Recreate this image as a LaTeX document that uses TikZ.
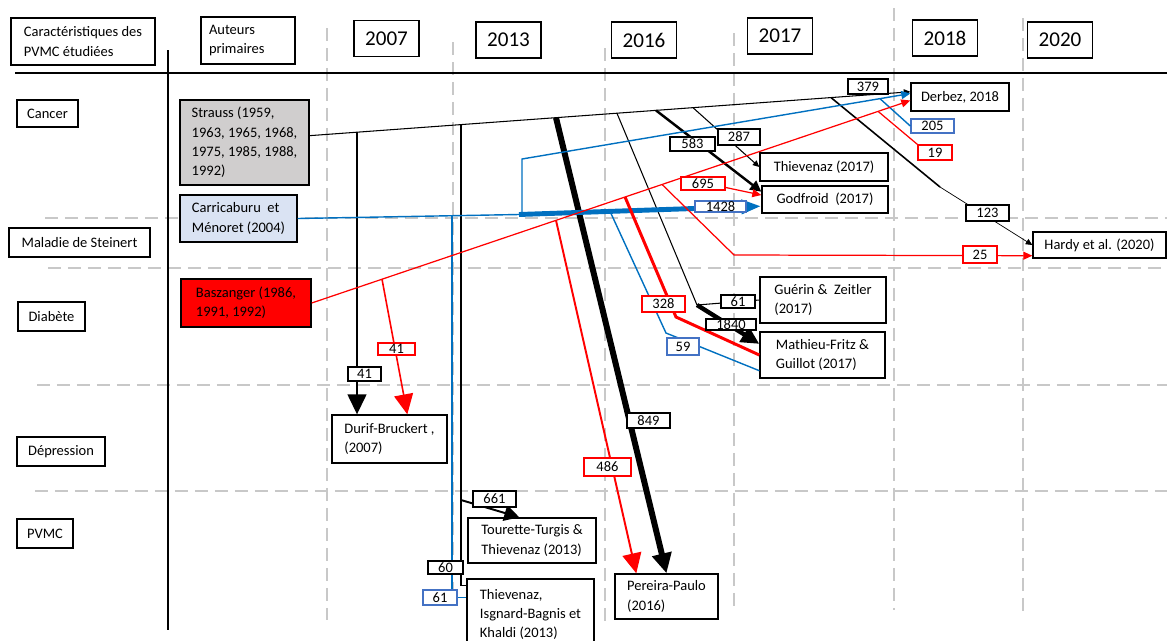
\documentclass[tikz,border=0pt]{standalone}
\usepackage{fontspec}
\setmainfont{Carlito}
\usetikzlibrary{arrows.meta, calc}
\definecolor{flowred}{HTML}{FF0000}
\definecolor{flowblue}{HTML}{0070C0}
\definecolor{labblue}{HTML}{4472C4}
\definecolor{gridgray}{HTML}{C8C8C8}
\definecolor{straussgray}{HTML}{D0CECE}
\definecolor{carriblue}{HTML}{DAE3F3}
\newcommand{\bodyfont}{\fontsize{8.25}{11}\selectfont}
\newcommand{\yearfont}{\fontsize{12}{14}\selectfont}

\begin{document}
\begin{tikzpicture}[x=0.02cm, y=-0.02cm,
  every node/.style={font=\bodyfont},
  pubbox/.style={draw, fill=white, line width=0.8pt, align=left, inner sep=0pt},
  yearbox/.style={pubbox, font=\yearfont, minimum width=1.3cm, minimum height=0.72cm},
  numlab/.style={draw, fill=white, line width=0.8pt, inner sep=0pt, minimum width=0.86cm, minimum height=0.3cm},
  redlab/.style={numlab, draw=flowred},
  bluelab/.style={numlab, draw=labblue},
  gridline/.style={gridgray, line width=0.9pt, dash pattern=on 0.26cm off 0.14cm},
  flow/.style={line width=0.6pt},
  redflow/.style={flowred, line width=0.7pt},
  blueflow/.style={flowblue, line width=0.8pt},
  bigtip/.style={-{Triangle[length=0.4cm, width=0.38cm]}},
  medtip/.style={-{Triangle[length=0.36cm, width=0.34cm]}},
  midtip/.style={-{Triangle[length=0.18cm, width=0.16cm]}},
  smalltip/.style={-{Triangle[length=0.13cm, width=0.12cm]}}
]
  \useasboundingbox (0,0) rectangle (1167,640);
  % grid
  \foreach \gx/\gt/\gb in {327/28/620, 453/42/595, 605/48/622, 734/33/608, 894/8/610, 1023/18/612}
    \draw[gridline] (\gx,\gt) -- (\gx,\gb);
  \foreach \gy/\gl in {218/45, 268/48, 385/37, 491/35}
    \draw[gridline] (\gl,\gy) -- (1167,\gy);
  % axes
  \draw[line width=1.2pt] (15,73) -- (1167,73);
  \draw[line width=1pt] (168,50) -- (168,630);

  % header
  \node[pubbox, minimum width=2.88cm, minimum height=0.94cm] (hcar) at (83,41.5) {Caractéristiques des\\PVMC étudiées};
  \node[pubbox, minimum width=1.88cm, minimum height=0.94cm, text width=1.56cm] (haut) at (248,40.5) {Auteurs\\primaires};
  \node[yearbox] (y2007) at (386.5,38.5) {2007};
  \node[yearbox] (y2013) at (508.5,40) {2013};
  \node[yearbox] (y2016) at (644,40) {2016};
  \node[yearbox] (y2017) at (780,36) {2017};
  \node[yearbox] (y2018) at (945,38) {2018};
  \node[yearbox] (y2020) at (1060,40) {2020};

  % categories
  \node[pubbox, minimum width=1.22cm, minimum height=0.54cm] (cancer) at (47.5,113.5) {Cancer};
  \node[pubbox, minimum width=2.82cm, minimum height=0.58cm] (steinert) at (79.5,242.5) {Maladie de Steinert};
  \node[pubbox, minimum width=1.34cm, minimum height=0.58cm] (diabete) at (51.5,316.5) {Diabète};
  \node[pubbox, minimum width=1.76cm, minimum height=0.58cm] (depression) at (61,451.5) {Dépression};
  \node[pubbox, minimum width=1.12cm, minimum height=0.58cm] (pvmc) at (45,533.5) {PVMC};

  % primary authors
  \node[pubbox, fill=straussgray, minimum width=2.58cm, minimum height=1.7cm] (strauss) at (244.5,142.5) {Strauss (1959,\\1963, 1965, 1968,\\1975, 1985, 1988,\\1992)};
  \node[pubbox, fill=carriblue, minimum width=2.34cm, minimum height=0.94cm] (carri) at (238.5,218.5) {Carricaburu\ \ et\\Ménoret (2004)};
  \node[pubbox, fill=flowred, minimum width=2.6cm, minimum height=0.96cm] (basz) at (246,303) {Baszanger (1986,\\1991, 1992)};

  % publications
  \node[pubbox, minimum width=1.96cm, minimum height=0.56cm] (derbez) at (960,97) {Derbez, 2018};
  \node[pubbox, minimum width=2.56cm, minimum height=0.56cm] (thiev17) at (824,167) {Thievenaz (2017)};
  \node[pubbox, minimum width=2.52cm, minimum height=0.54cm] (godfroid) at (825,199.5) {Godfroid\ \ (2017)};
  \node[pubbox, minimum width=2.66cm, minimum height=0.52cm] (hardy) at (1099.5,245) {Hardy et al. (2020)};
  \node[pubbox, minimum width=2.52cm, minimum height=0.92cm] (guerin) at (823,300) {Guérin \&\ \ Zeitler\\(2017)};
  \node[pubbox, minimum width=2.5cm, minimum height=0.92cm] (mathieu) at (822.5,355) {Mathieu-Fritz \&\\Guillot (2017)};
  \node[pubbox, minimum width=2.3cm, minimum height=0.96cm] (durif) at (389.5,439) {Durif-Bruckert ,\\(2007)};
  \node[pubbox, minimum width=2.56cm, minimum height=0.9cm] (tourette) at (532,540.5) {Tourette-Turgis \&\\Thievenaz (2013)};
  \node[pubbox, minimum width=2.54cm, minimum height=1.42cm] (thievIKB) at (530.5,614.5) {Thievenaz,\\Isgnard-Bagnis et\\Khaldi (2013)};
  \node[pubbox, minimum width=2.06cm, minimum height=0.9cm] (pereira) at (666.5,596.5) {Pereira-Paulo\\(2016)};

  % branch points
  \coordinate (s41) at (357,132.2);
  \coordinate (s60) at (461,124.7);
  \coordinate (s661) at (461,500);
  \coordinate (s849) at (556,117.7);
  \coordinate (s1840) at (617,113.3);
  \coordinate (k1840) at (697,305);
  \coordinate (s583) at (656,110.4);
  \coordinate (s287) at (693,107.7);
  \coordinate (s123) at (831,97.6);
  \coordinate (k123) at (940,187);
  \coordinate (k1428) at (519,214.5);
  \coordinate (kb1) at (522,214.4);
  \coordinate (kb2) at (522,159);
  \coordinate (b205) at (880,98.7);
  \coordinate (b61) at (452,215.7);
  \coordinate (b59) at (610,211.3);
  \coordinate (k59) at (666,333);
  \coordinate (r41) at (382,279.2);
  \coordinate (r486) at (556,220.3);
  \coordinate (r328) at (625,196.9);
  \coordinate (k328) at (676,317);
  \coordinate (r695) at (681,178);
  \coordinate (r25) at (662,184.4);
  \coordinate (k25) at (734,255);
  \coordinate (r19) at (878,111.3);

  % labels that end a line
  \node[bluelab, minimum height=0.28cm] (l205) at (932.5,126) {205};
  \node[redlab, minimum width=0.68cm] (l19) at (935,152.5) {19};

  % Strauss
  \draw[flow, smalltip] (strauss.6) -- (derbez.174);
  \draw[flow, line width=0.8pt, bigtip] (s41) -- (s41 |- durif.north);
  \draw[flow, line width=0.8pt] (s60) |- ($(thievIKB.north west)+(0,7)$);
  \draw[flow, line width=1.1pt, -{Triangle[length=0.3cm, width=0.32cm]}] (s661) -- ($(tourette.north west)+(52,0)$);
  \draw[line width=3.4pt, bigtip] (s849) -- (pereira.north);
  \draw[flow] (s1840) -- (k1840);
  \draw[flow] (k1840) -- (guerin.west);
  \draw[line width=2.5pt, medtip] (k1840) -- (mathieu.170);
  \draw[line width=1.4pt, -{Triangle[length=0.22cm, width=0.22cm]}] (s583) -- (godfroid.173);
  \draw[flow, smalltip] (s287) -- (thiev17.west);
  \draw[line width=0.9pt] (s123) -- (k123);
  \draw[line width=0.4pt, smalltip] (k123) -- (hardy.west);

  % Carricaburu et Menoret
  \draw[blueflow] (carri.east) -- (k1428);
  \draw[blueflow, line width=2.8pt, -{Triangle[length=0.4cm, width=0.27cm]}] (k1428) -- (godfroid.186);
  \draw[blueflow, midtip] (kb1) -- (kb2) -- (derbez.176);
  \draw[blueflow] (b205) -- (l205.west);
  \draw[blueflow] (b61) |- ($(thievIKB.north west)+(0,19)$);
  \draw[blueflow] (b59) -- (k59) -- ($(mathieu.south west)+(0,-8)$);

  % Baszanger
  \draw[redflow, midtip] (basz.east) -- (derbez.184);
  \draw[redflow, line width=0.9pt, bigtip] (r41) -- ($(durif.north west)+(76,0)$);
  \draw[redflow, line width=1.1pt, bigtip] (r486) -- ($(pereira.north west)+(22,0)$);
  \draw[redflow, line width=1.7pt] (r328) -- (k328) -- (mathieu.west);
  \draw[redflow, midtip] (r695) -- (godfroid.176);
  \draw[redflow, midtip] (r25) -- (k25) -- ($(hardy.south west)+(0,-3)$);
  \draw[redflow] (r19) -- (l19.north west);

  % counts
  \node[numlab, minimum width=0.8cm] (l379) at (868,86.5) {379};
  \node[numlab, minimum width=0.9cm, minimum height=0.28cm] (l583) at (692.5,144) {583};
  \node[numlab, minimum width=0.84cm, minimum height=0.32cm] (l287) at (739,137) {287};
  \node[redlab, minimum width=0.88cm, minimum height=0.26cm] (l695) at (703,183.5) {695};
  \node[bluelab, minimum width=1.02cm, minimum height=0.22cm] (l1428) at (720.5,206.5) {1428};
  \node[numlab, minimum height=0.32cm] (l123) at (987.5,213) {123};
  \node[redlab, minimum width=0.68cm, minimum height=0.34cm] (l25) at (980,254.5) {25};
  \node[redlab, minimum height=0.32cm] (l328) at (663.5,304) {328};
  \node[numlab, minimum width=0.68cm, minimum height=0.26cm] (l61g) at (738,301.5) {61};
  \node[numlab, minimum width=1cm, minimum height=0.22cm] (l1840) at (731,324.5) {1840};
  \node[bluelab, minimum width=0.64cm, minimum height=0.34cm] (l59) at (683,346.5) {59};
  \node[redlab, minimum width=0.74cm, minimum height=0.24cm] (l41r) at (396.5,349) {41};
  \node[numlab, minimum width=0.66cm, minimum height=0.28cm] (l41b) at (364.5,374) {41};
  \node[numlab] (l849) at (648.5,420.5) {849};
  \node[redlab, minimum width=0.94cm, minimum height=0.36cm] (l486) at (607.5,467) {486};
  \node[numlab, minimum height=0.32cm] (l661) at (494.5,499) {661};
  \node[numlab, minimum width=0.7cm, minimum height=0.26cm] (l60) at (445.5,567.5) {60};
  \node[bluelab, minimum width=0.68cm] (l61b) at (440,597.5) {61};
\end{tikzpicture}
\end{document}
